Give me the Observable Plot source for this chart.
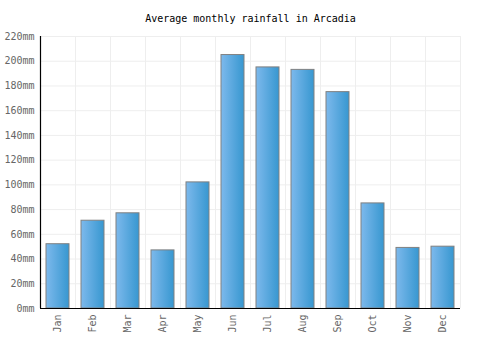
<!DOCTYPE html>
<html>
<head>
<meta charset="utf-8">
<script src="https://cdn.jsdelivr.net/npm/d3@7"></script>
<script src="https://cdn.jsdelivr.net/npm/@observablehq/plot@0.6"></script>
<style>
  body { margin: 0; background: #fff; }
</style>
</head>
<body>
<div id="chart"></div>
<script>
const months = ["Jan","Feb","Mar","Apr","May","Jun","Jul","Aug","Sep","Oct","Nov","Dec"];
const rainfall = [52, 71, 77, 47, 102, 205, 195, 193, 175, 85, 49, 50];
const yTicks = [0,20,40,60,80,100,120,140,160,180,200,220];
const title = "Average monthly rainfall in Arcadia";

const data = months.map((m, i) => ({month: m, value: rainfall[i]}));

const W = 500, H = 350, mL = 40, mR = 40, mT = 36, mB = 42;
const step = (W - mL - mR) / months.length;
const font = "DejaVu Sans Mono, monospace";

const gradientDefs = () => {
  const ns = "http://www.w3.org/2000/svg";
  const defs = document.createElementNS(ns, "defs");
  const lg = document.createElementNS(ns, "linearGradient");
  lg.setAttribute("id", "barGrad");
  lg.setAttribute("x1", "0"); lg.setAttribute("x2", "1");
  lg.setAttribute("y1", "0"); lg.setAttribute("y2", "0");
  [["0%", "#7db9ec"], ["100%", "#3797d0"]].forEach(([o, c]) => {
    const s = document.createElementNS(ns, "stop");
    s.setAttribute("offset", o); s.setAttribute("stop-color", c);
    lg.appendChild(s);
  });
  defs.appendChild(lg);
  return defs;
};

const plot = Plot.plot({
  width: W, height: H,
  marginLeft: mL, marginRight: mR, marginTop: mT, marginBottom: mB,
  style: {fontFamily: font, fontSize: "10px", background: "#fff"},
  x: {domain: months, paddingInner: 0.33, paddingOuter: 0.165, label: null},
  y: {domain: [0, 220], label: null},
  marks: [
    gradientDefs,
    Plot.ruleY(yTicks, {stroke: "#eeeeee"}),
    Plot.ruleX(months, {x: d => d, y1: 0, y2: 220, dx: -step / 2, stroke: "#eeeeee"}),
    Plot.ruleX(months, {x: d => d, y1: 0, y2: 220, dx: step / 2, stroke: "#eeeeee"}),
    Plot.barY(data, {x: "month", y: "value", fill: "url(#barGrad)", stroke: "#808080", strokeWidth: 1}),
    Plot.axisY({ticks: yTicks, tickSize: 0, tickPadding: 6, tickFormat: d => d + "mm", fill: "#666", fontSize: 10}),
    Plot.axisX({tickSize: 0, tickPadding: 6, tickRotate: -90, fill: "#666", fontSize: 10}),
    Plot.ruleY([0], {stroke: "#000", strokeWidth: 1.2}),
    Plot.ruleX([months[0]], {x: d => d, y1: 0, y2: 220, dx: -step / 2, stroke: "#000", strokeWidth: 1.2}),
    Plot.text([title], {frameAnchor: "top", lineAnchor: "middle", dy: -18, text: d => d, fill: "#000", fontSize: 10})
  ]
});

document.getElementById("chart").appendChild(plot);
</script>
</body>
</html>
